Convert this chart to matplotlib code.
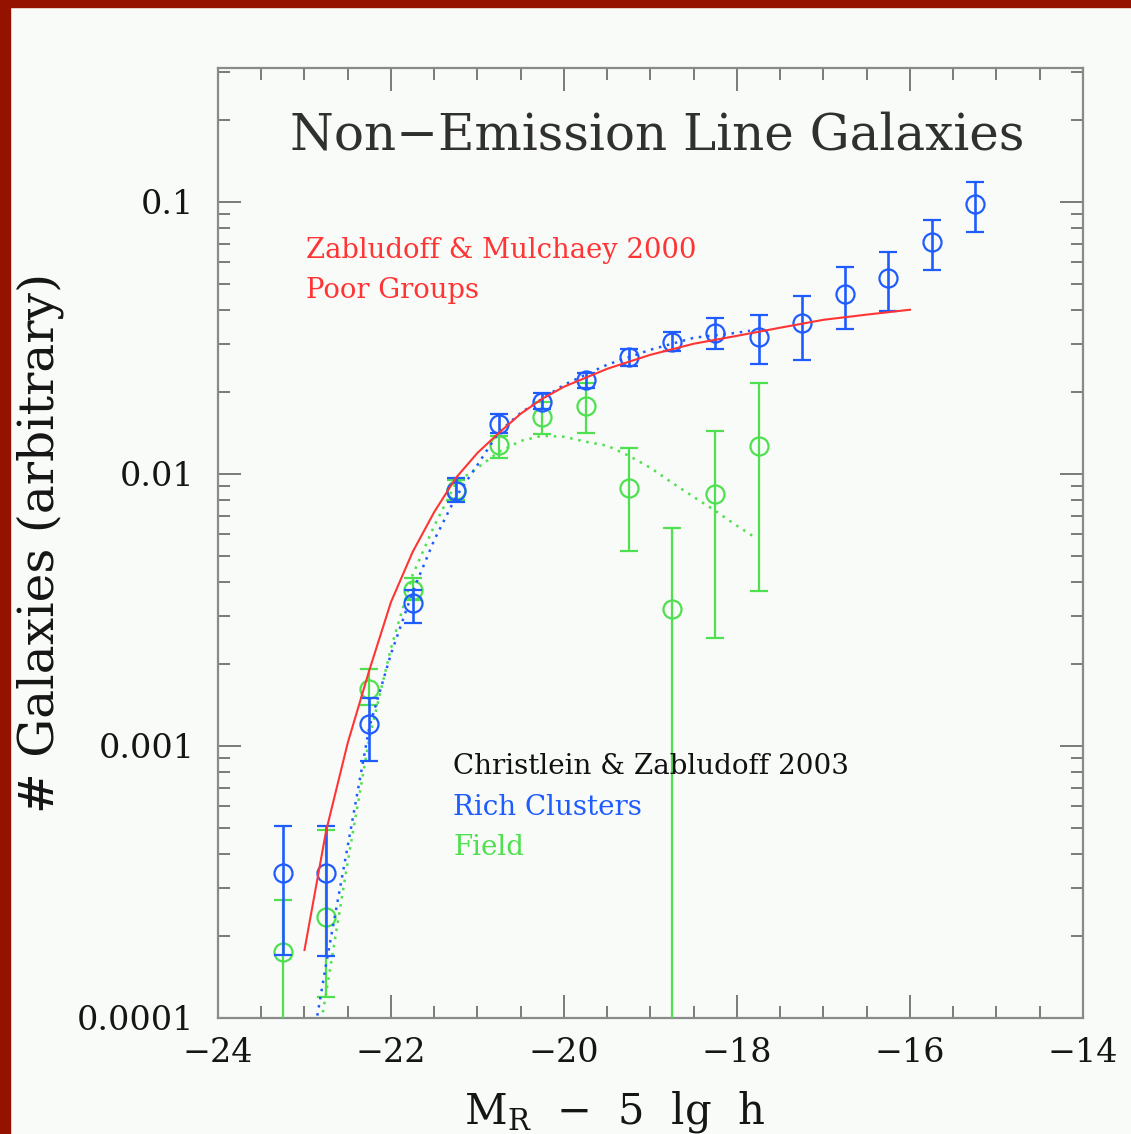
import numpy as np
import matplotlib
matplotlib.use("Agg")
import matplotlib.pyplot as plt
from matplotlib.ticker import FixedLocator, FixedFormatter, MultipleLocator, LogLocator, NullFormatter
from matplotlib.patches import Rectangle

plt.rcParams['font.family'] = ['DejaVu Serif']
plt.rcParams['mathtext.fontset'] = 'dejavuserif'

# ---------------- data ----------------
# Rich clusters (blue)
rc_mag = [-23.25, -22.75, -22.25, -21.75, -21.25, -20.75, -20.25, -19.75, -19.25,
          -18.75, -18.25, -17.75, -17.25, -16.75, -16.25, -15.75, -15.25]
rc_val = [3.41e-4, 3.41e-4, 1.205e-3, 3.36e-3, 8.66e-3, 0.01528, 0.01841, 0.02218, 0.02692,
          0.03055, 0.03299, 0.03190, 0.03589, 0.04592, 0.05260, 0.07129, 0.0983]
rc_hi = [5.08e-4, 5.08e-4, 1.50e-3, 3.75e-3, 9.66e-3, 0.01663, 0.01986, 0.02350, 0.02884,
         0.03327, 0.03750, 0.03846, 0.04508, 0.05768, 0.06546, 0.0859, 0.1185]
rc_lo = [1.71e-4, 1.69e-4, 8.81e-4, 2.83e-3, 7.89e-3, 0.01416, 0.01734, 0.02072, 0.02495,
         0.02833, 0.02884, 0.02535, 0.02624, 0.03412, 0.03972, 0.05623, 0.07762]

# Field (green)
fd_mag = [-23.25, -22.75, -22.25, -21.75, -21.25, -20.75, -20.25, -19.75, -19.25,
          -18.75, -18.25, -17.75]
fd_val = [1.75e-4, 2.35e-4, 1.62e-3, 3.75e-3, 8.73e-3, 0.01279, 0.01622, 0.01778, 8.89e-3,
          3.19e-3, 8.44e-3, 0.01268]
fd_hi = [2.72e-4, 4.9e-4, 1.92e-3, 4.15e-3, 9.5e-3, 0.01380, 0.01841, 0.02162, 0.01247,
         6.33e-3, 0.01439, 0.02162]
fd_lo = [1e-7, 1.19e-4, 1.41e-3, 3.44e-3, 8.0e-3, 0.01146, 0.01403, 0.01416, 5.21e-3,
         1e-7, 2.49e-3, 3.72e-3]

# Poor groups fit (red solid)
pg_mag = [-23.0, -22.75, -22.5, -22.25, -22.0, -21.75, -21.5, -21.25, -21.0, -20.75, -20.5,
          -20.25, -20.0, -19.5, -19.0, -18.5, -18.0, -17.5, -17.0, -16.5, -16.0]
pg_val = [1.778e-4, 4.87e-4, 1.026e-3, 1.90e-3, 3.38e-3, 5.16e-3, 7.24e-3, 9.66e-3, 0.01194,
          0.01416, 0.01663, 0.01888, 0.02089, 0.02432, 0.02738, 0.03006, 0.03214, 0.03443,
          0.03681, 0.03846, 0.04009]

# Rich clusters fit (blue dotted)
rcf_mag = [-22.9, -22.75, -22.5, -22.25, -22.0, -21.75, -21.5, -21.25, -21.0, -20.75, -20.5,
           -20.25, -20.0, -19.5, -19.0, -18.5, -18.0, -17.85]
rcf_val = [8.3e-5, 1.58e-4, 4.29e-4, 1.175e-3, 2.18e-3, 3.68e-3, 5.71e-3, 8.22e-3, 0.01079,
           0.01427, 0.01675, 0.01888, 0.02124, 0.02518, 0.02858, 0.03162, 0.03299, 0.03357]

# Field fit (green dotted)
fdf_mag = [-22.85, -22.75, -22.5, -22.25, -22.0, -21.75, -21.5, -21.25, -21.0, -20.75, -20.5,
           -20.25, -20.0, -19.75, -19.5, -19.25, -19.0, -18.75, -18.5, -18.25, -18.0, -17.8]
fdf_val = [7.96e-5, 1.236e-4, 3.75e-4, 1.07e-3, 2.29e-3, 4.25e-3, 6.44e-3, 9.27e-3, 0.01052,
           0.01205, 0.01321, 0.01380, 0.01368, 0.01312, 0.01268, 0.01165, 0.01052, 9.27e-3,
           8.22e-3, 7.31e-3, 6.44e-3, 5.86e-3]

ytick_vals = [1e-4, 1e-3, 1e-2, 1e-1]
ytick_labels = ["0.0001", "0.001", "0.01", "0.1"]

RED = '#ff3535'
BLUE = '#1f5cff'
GREEN = '#4ee04e'
BG = '#f9fbf8'

# ---------------- figure ----------------
fig = plt.figure(figsize=(11.31, 11.34), dpi=100, facecolor=BG)
W, H = 1131, 1134
ax = fig.add_axes([218 / W, 1 - 1018 / H, (1083 - 218) / W, (1018 - 68) / H])
ax.set_facecolor(BG)

# border bands
fig.patches.append(Rectangle((0, 1 - 7 / H), 1, 7 / H, transform=fig.transFigure,
                             color='#961200', zorder=10))
fig.patches.append(Rectangle((0, 0), 10 / W, 1, transform=fig.transFigure,
                             color='#961200', zorder=10))

def err(v, lo, hi):
    v = np.array(v); lo = np.array(lo); hi = np.array(hi)
    return np.vstack([v - lo, hi - v])

ax.errorbar(fd_mag, fd_val, yerr=err(fd_val, fd_lo, fd_hi), fmt='o', mfc='none',
            mec=GREEN, ms=13, mew=1.6, ecolor=GREEN, elinewidth=1.6, capsize=6.5,
            capthick=2, zorder=3)
ax.errorbar(rc_mag, rc_val, yerr=err(rc_val, rc_lo, rc_hi), fmt='o', mfc='none',
            mec=BLUE, ms=13, mew=1.6, ecolor=BLUE, elinewidth=1.9, capsize=6.5,
            capthick=2.2, zorder=4)

ax.plot(pg_mag, pg_val, '-', color=RED, lw=1.5, zorder=5)
ax.plot(rcf_mag, rcf_val, color=BLUE, lw=1.8, ls=(0, (1, 2.3)), zorder=4)
ax.plot(fdf_mag, fdf_val, color=GREEN, lw=1.8, ls=(0, (1, 2.3)), zorder=3)

ax.set_yscale('log')
ax.set_xlim(-24, -14)
ax.set_ylim(1e-4, 0.31)

ax.xaxis.set_major_locator(MultipleLocator(2))
ax.xaxis.set_minor_locator(MultipleLocator(0.5))
ax.yaxis.set_major_locator(FixedLocator(ytick_vals))
ax.yaxis.set_major_formatter(FixedFormatter(ytick_labels))
ax.yaxis.set_minor_locator(LogLocator(base=10, subs=np.arange(2, 10)))
ax.yaxis.set_minor_formatter(NullFormatter())

ax.tick_params(which='both', direction='in', top=True, right=True, color='#707070',
               width=1.3)
ax.tick_params(which='major', length=16.5, labelsize=24, labelcolor='#151515')
ax.tick_params(which='minor', length=8.6)
ax.tick_params(axis='x', which='major', pad=14)
ax.tick_params(axis='y', which='major', pad=17)
for s in ax.spines.values():
    s.set_color('#8a8a8a')
    s.set_linewidth(1.6)

ax.set_xlabel(r'M$_{\mathrm{R}}$  −  5  lg  h', fontsize=30, color='#151515')
ax.xaxis.set_label_coords(0.458, -0.075)
ax.set_ylabel('# Galaxies (arbitrary)', fontsize=35, color='#151515')
ax.yaxis.set_label_coords(-0.178, 0.5)

ax.text(0.5075, 0.9137, 'Non−Emission Line Galaxies', transform=ax.transAxes,
        ha='center', va='baseline', fontsize=36, color='#303030')

ax.text(0.1017, 0.80, 'Zabludoff & Mulchaey 2000', transform=ax.transAxes,
        ha='left', va='baseline', fontsize=19.8, color=RED)
ax.text(0.1017, 0.758, 'Poor Groups', transform=ax.transAxes,
        ha='left', va='baseline', fontsize=19.8, color=RED)
ax.text(0.2717, 0.257, 'Christlein & Zabludoff 2003', transform=ax.transAxes,
        ha='left', va='baseline', fontsize=20, color='#111111')
ax.text(0.2717, 0.214, 'Rich Clusters', transform=ax.transAxes,
        ha='left', va='baseline', fontsize=20, color=BLUE)
ax.text(0.2717, 0.172, 'Field', transform=ax.transAxes,
        ha='left', va='baseline', fontsize=20, color=GREEN)

fig.savefig('out.png', dpi=100, facecolor=BG)
